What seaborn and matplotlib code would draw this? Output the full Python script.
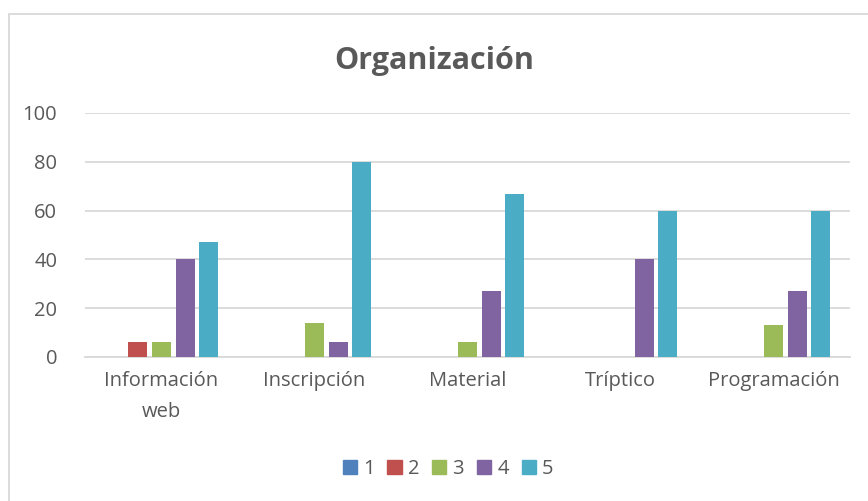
import pandas as pd
import matplotlib.pyplot as plt
import matplotlib.patches as mpatches
import seaborn as sns

# %%
categories = ['Información\nweb', 'Inscripción', 'Material', 'Tríptico', 'Programación']
levels = ['1', '2', '3', '4', '5']
vals_1 = [0, 0, 0, 0, 0]
vals_2 = [6, 0, 0, 0, 0]
vals_3 = [6, 14, 6, 0, 13]
vals_4 = [40, 6, 27, 40, 27]
vals_5 = [47, 80, 67, 60, 60]
colors = ['#4F81BD', '#C0504D', '#9BBB59', '#8064A2', '#4BACC6']

# %%
df = pd.DataFrame({'cat': categories, '1': vals_1, '2': vals_2, '3': vals_3,
                   '4': vals_4, '5': vals_5})
df = df.melt(id_vars='cat', var_name='nivel', value_name='valor')

sns.set_theme(style='white')
plt.rcParams['font.family'] = ['Open Sans', 'DejaVu Sans']
txt = '#595959'
grid = '#D9D9D9'

fig = plt.figure(figsize=(8.68, 5.01), dpi=100)
ax = fig.add_axes([85 / 868, 1 - 357 / 501, 765 / 868, 244 / 501])

sns.barplot(data=df, x='cat', y='valor', hue='nivel', hue_order=levels,
            palette=colors, width=0.775, gap=0.2, saturation=1,
            ax=ax, legend=False, zorder=3, linewidth=0)

ax.set_ylim(0, 100)
ax.set_xlim(-0.5, 4.5)
ax.set_yticks(range(0, 101, 20))
ax.yaxis.grid(True, color=grid, linewidth=1.3, zorder=0)
ax.set_axisbelow(True)
for s in ['top', 'right', 'left']:
    ax.spines[s].set_visible(False)
ax.spines['bottom'].set_color(grid)
ax.spines['bottom'].set_linewidth(1.3)
ax.set_xlabel('')
ax.set_ylabel('')
ax.tick_params(axis='y', length=0, labelsize=14.5, labelcolor=txt, pad=20)
ax.tick_params(axis='x', which='major', length=0, labelsize=14.5, labelcolor=txt, pad=10)
for lab in ax.get_xticklabels():
    lab.set_linespacing(1.75)
ax.set_xticks([i - 0.5 for i in range(6)], minor=True)
ax.tick_params(axis='x', which='minor', length=6, width=1.3, color=grid, direction='out')

fig.text(0.5, 1 - 61 / 501, 'Organización', ha='center', va='center',
         fontsize=22, fontweight='bold', color=txt)

handles = [mpatches.Patch(color=c, label=l) for c, l in zip(colors, levels)]
fig.legend(handles=handles, loc='center', bbox_to_anchor=(448 / 868, 1 - 469 / 501),
           ncol=5, frameon=False, fontsize=14.5, labelcolor=txt,
           handlelength=0.7, handleheight=0.7, handletextpad=0.3, columnspacing=0.65)

# chart border
fig.patches.append(mpatches.Rectangle((9 / 868, -0.05), 1.1, 1 - 14 / 501 + 0.05,
                                      transform=fig.transFigure, fill=False,
                                      edgecolor=grid, linewidth=1.3))

fig.savefig('out.png', dpi=100)
